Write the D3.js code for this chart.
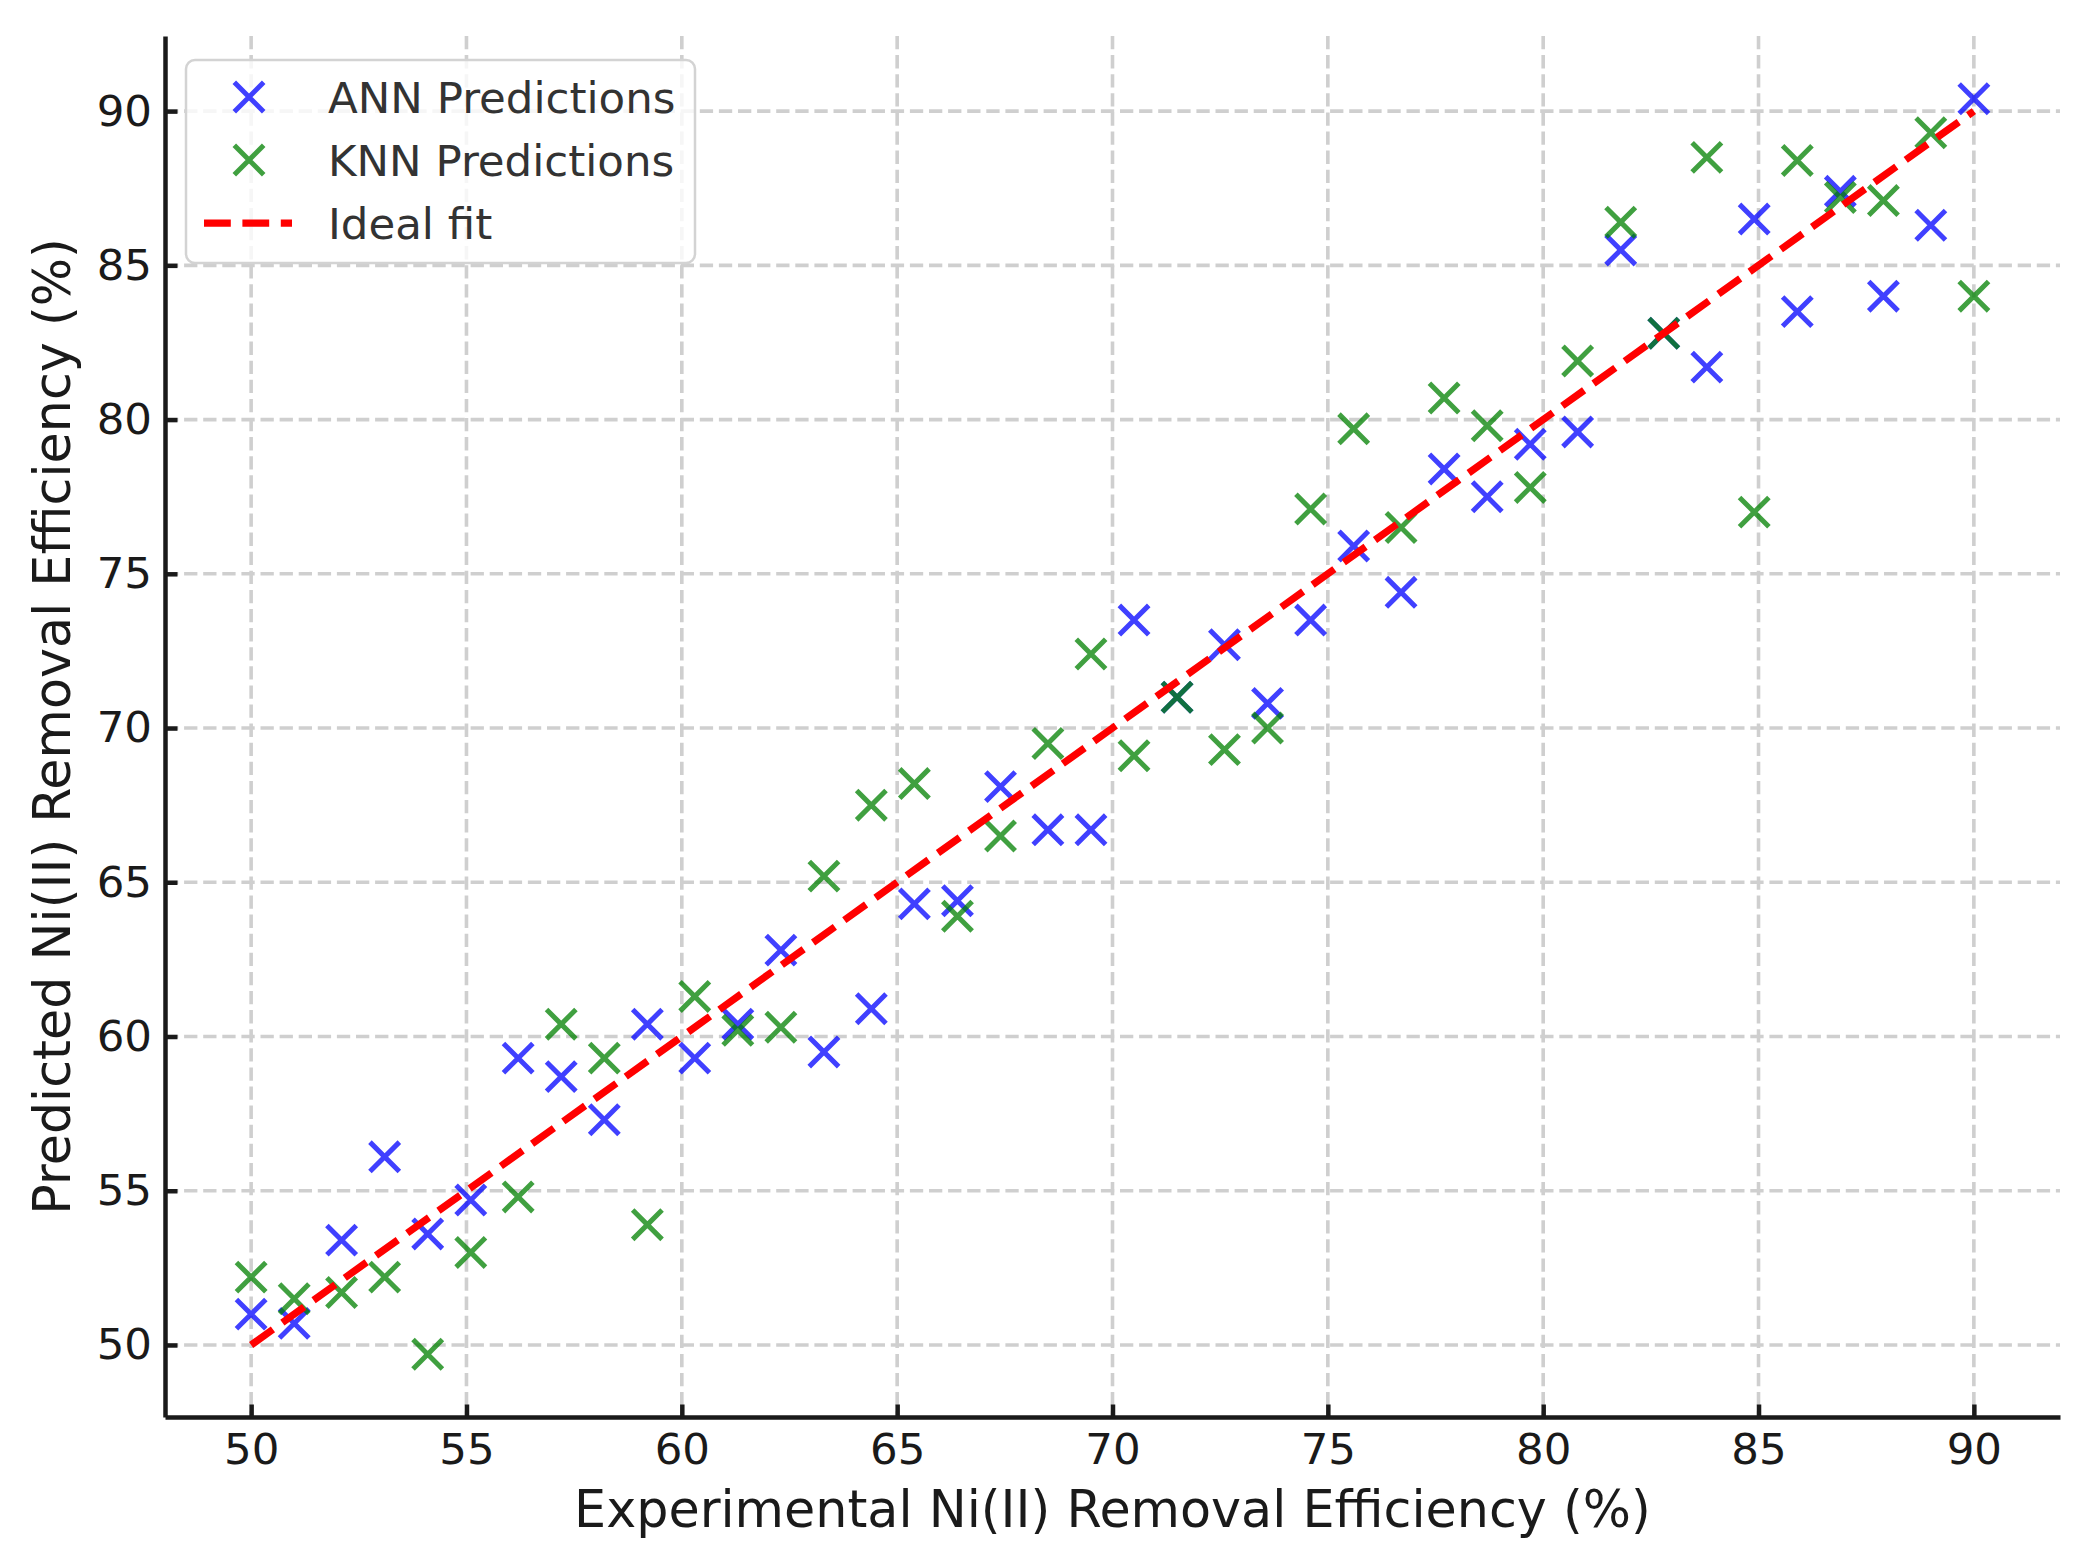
<!DOCTYPE html>
<html>
<head>
<meta charset="utf-8">
<script src="https://cdn.jsdelivr.net/npm/d3@7"></script>
<style>
  body { margin: 0; background: #fff; }
  text { font-family: "DejaVu Sans", sans-serif; }
</style>
</head>
<body>
<svg width="2087" height="1568"></svg>
<script>
var experimental = [50.0, 51.0, 52.1, 53.1, 54.1, 55.1, 56.2, 57.2, 58.2, 59.2,
                    60.3, 61.3, 62.3, 63.3, 64.4, 65.4, 66.4, 67.4, 68.5, 69.5,
                    70.5, 71.5, 72.6, 73.6, 74.6, 75.6, 76.7, 77.7, 78.7, 79.7,
                    80.8, 81.8, 82.8, 83.8, 84.9, 85.9, 86.9, 87.9, 89.0, 90.0];

var annPred = [51.0, 50.7, 53.4, 56.1, 53.6, 54.7, 59.3, 58.7, 57.3, 60.4,
               59.3, 60.4, 62.8, 59.5, 60.9, 64.3, 64.4, 68.1, 66.7, 66.7,
               73.5, 71.0, 72.7, 70.8, 73.5, 75.9, 74.4, 78.4, 77.5, 79.2,
               79.6, 85.5, 82.8, 81.7, 86.5, 83.5, 87.4, 84.0, 86.3, 90.4];

var knnPred = [52.2, 51.5, 51.7, 52.2, 49.7, 53.0, 54.8, 60.4, 59.3, 53.9,
               61.3, 60.2, 60.3, 65.2, 67.5, 68.2, 63.9, 66.5, 69.5, 72.4,
               69.1, 71.0, 69.3, 70.0, 77.1, 79.7, 76.5, 80.7, 79.8, 77.8,
               81.9, 86.4, 82.8, 88.5, 77.0, 88.4, 87.2, 87.1, 89.3, 84.0];

var idealFit = [50, 90];

var ticks = [50, 55, 60, 65, 70, 75, 80, 85, 90];

var series = [
  {name: "ANN Predictions", values: annPred, color: "#0000ff"},
  {name: "KNN Predictions", values: knnPred, color: "#008000"}
];

var svg = d3.select("svg");
var margin = {top: 36, right: 27, bottom: 151, left: 165};
var width = 2087 - margin.left - margin.right;
var height = 1568 - margin.top - margin.bottom;

// 5% padding like matplotlib autoscale
var xExt = d3.extent(experimental);
var yExt = d3.extent(annPred.concat(knnPred, idealFit));
var xPad = (xExt[1] - xExt[0]) * 0.05;
var yPad = (yExt[1] - yExt[0]) * 0.05;

var x = d3.scaleLinear().domain([xExt[0] - xPad, xExt[1] + xPad]).range([0, width]);
var y = d3.scaleLinear().domain([yExt[0] - yPad, yExt[1] + yPad]).range([height, 0]);

var g = svg.append("g").attr("transform", "translate(" + margin.left + "," + margin.top + ")");

// grid
g.append("g").selectAll("line")
    .data(ticks)
  .enter().append("line")
    .attr("x1", function(d) { return x(d); })
    .attr("x2", function(d) { return x(d); })
    .attr("y1", 0)
    .attr("y2", height)
    .style("stroke", "#cfcfcf")
    .style("stroke-width", 3.6)
    .style("stroke-dasharray", "13.3,5.8");

g.append("g").selectAll("line")
    .data(ticks)
  .enter().append("line")
    .attr("y1", function(d) { return y(d); })
    .attr("y2", function(d) { return y(d); })
    .attr("x1", 0)
    .attr("x2", width)
    .style("stroke", "#cfcfcf")
    .style("stroke-width", 3.6)
    .style("stroke-dasharray", "13.3,5.8");

var cross = function(h) { return "M" + (-h) + "," + (-h) + "L" + h + "," + h + "M" + (-h) + "," + h + "L" + h + "," + (-h); };

series.forEach(function(s) {
  g.append("g").selectAll("path")
      .data(s.values)
    .enter().append("path")
      .attr("transform", function(d, i) { return "translate(" + x(experimental[i]) + "," + y(d) + ")"; })
      .attr("d", cross(14.7))
      .style("fill", "none")
      .style("stroke", s.color)
      .style("stroke-opacity", 0.75)
      .style("stroke-width", 5);
});

g.append("line")
    .attr("x1", x(idealFit[0]))
    .attr("y1", y(idealFit[0]))
    .attr("x2", x(idealFit[1]))
    .attr("y2", y(idealFit[1]))
    .style("stroke", "red")
    .style("stroke-width", 7.25)
    .style("stroke-dasharray", "26.8,11.6");

// axes, ticks pointing in
var xAxis = g.append("g")
    .attr("transform", "translate(0," + height + ")")
    .call(d3.axisBottom(x).tickValues(ticks).tickSizeInner(-12.5).tickSizeOuter(0).tickPadding(16));

var yAxis = g.append("g")
    .call(d3.axisLeft(y).tickValues(ticks).tickSizeInner(-12.5).tickSizeOuter(0).tickPadding(13));

[xAxis, yAxis].forEach(function(a) {
  a.select(".domain").style("stroke", "#1a1a1a").style("stroke-width", 4.5);
  a.selectAll(".tick line").style("stroke", "#1a1a1a").style("stroke-width", 4.5);
  a.selectAll(".tick text")
      .style("font-family", "DejaVu Sans")
      .style("font-size", "43.5px")
      .style("fill", "#1a1a1a");
});

svg.append("text")
    .attr("x", margin.left + width / 2)
    .attr("y", 1527)
    .attr("text-anchor", "middle")
    .style("font-size", "50.75px")
    .style("fill", "#1a1a1a")
    .text("Experimental Ni(II) Removal Efficiency (%)");

svg.append("text")
    .attr("transform", "translate(70," + (margin.top + height / 2) + ") rotate(-90)")
    .attr("text-anchor", "middle")
    .style("font-size", "50.75px")
    .style("fill", "#1a1a1a")
    .text("Predicted Ni(II) Removal Efficiency (%)");

// legend
var legend = svg.append("g");

legend.append("rect")
    .attr("x", 186)
    .attr("y", 60)
    .attr("width", 509)
    .attr("height", 203)
    .attr("rx", 9)
    .style("fill", "white")
    .style("fill-opacity", 0.8)
    .style("stroke", "#d3d3d3")
    .style("stroke-width", 2.5);

var items = [
  {name: series[0].name, color: series[0].color, type: "marker"},
  {name: series[1].name, color: series[1].color, type: "marker"},
  {name: "Ideal fit", color: "red", type: "line"}
];

var row = legend.selectAll("g.item")
    .data(items)
  .enter().append("g")
    .attr("class", "item")
    .attr("transform", function(d, i) { return "translate(0," + (97 + i * 63) + ")"; });

row.filter(function(d) { return d.type == "marker"; })
  .append("path")
    .attr("transform", "translate(249,0)")
    .attr("d", cross(14.7))
    .style("fill", "none")
    .style("stroke", function(d) { return d.color; })
    .style("stroke-opacity", 0.75)
    .style("stroke-width", 5);

row.filter(function(d) { return d.type == "line"; })
  .append("line")
    .attr("x1", 204)
    .attr("x2", 292)
    .style("stroke", "red")
    .style("stroke-width", 7.25)
    .style("stroke-dasharray", "26.8,11.6");

row.append("text")
    .attr("x", 328)
    .attr("dy", "0.36em")
    .style("font-size", "43.5px")
    .style("fill", "#333")
    .text(function(d) { return d.name; });
</script>
</body>
</html>
